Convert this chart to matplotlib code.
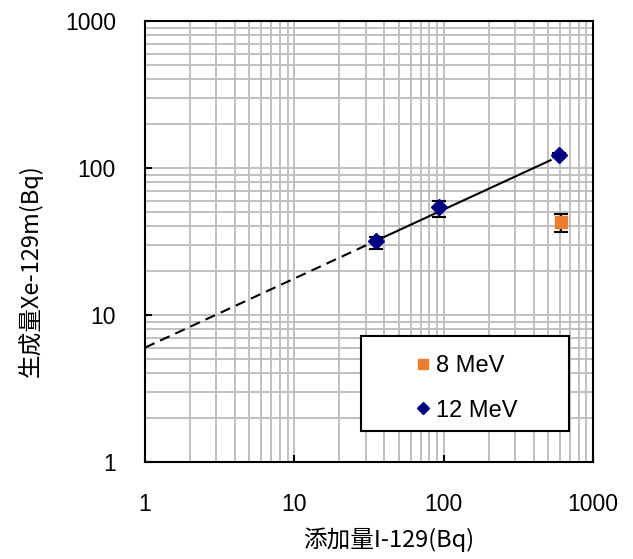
import matplotlib
matplotlib.use("Agg")
from matplotlib import pyplot as plt
from matplotlib.ticker import LogLocator, FixedLocator, NullFormatter

plt.rcParams["font.family"] = ["Liberation Sans", "Noto Sans CJK JP", "DejaVu Sans"]

# 12 MeV data
x12 = [35, 93, 590]
y12 = [31.9, 54, 122]
err12_lo = [3.8, 7.4, 4]
err12_hi = [2.1, 6, 5]

# 8 MeV data
x8 = [612]
y8 = [43]
err8_lo = [6.1]
err8_hi = [6]

# trend line (extrapolated part dashed)
fit_dash_x = [1, 35]
fit_dash_y = [6.0, 31.9]
fit_solid_x = [35, 520]
fit_solid_y = [31.9, 113]

xticks = [1, 10, 100, 1000]
yticks = [1, 10, 100, 1000]

fig = plt.figure(figsize=(6.33, 5.59), dpi=100)
ax = fig.add_axes([145 / 633, 1 - 462 / 559, 448 / 633, 441 / 559])
ax.set_xscale("log")
ax.set_yscale("log")
ax.set_xlim(1, 1000)
ax.set_ylim(1, 1000)

ax.grid(True, which="both", color="#c0c0c0", linewidth=1.4, zorder=0)
ax.xaxis.set_minor_locator(LogLocator(base=10, subs=range(2, 10)))
ax.yaxis.set_minor_locator(LogLocator(base=10, subs=range(2, 10)))
ax.xaxis.set_minor_formatter(NullFormatter())
ax.yaxis.set_minor_formatter(NullFormatter())
ax.xaxis.set_major_locator(FixedLocator(xticks))
ax.yaxis.set_major_locator(FixedLocator(yticks))
ax.set_xticklabels([str(v) for v in xticks])
ax.set_yticklabels([str(v) for v in yticks])
ax.tick_params(which="major", direction="in", length=5, width=1.5, labelsize=16.5, color="black")
ax.tick_params(axis="x", pad=22)
ax.tick_params(axis="y", pad=21)
ax.tick_params(which="minor", length=0)
for s in ax.spines.values():
    s.set_linewidth(1.5)
    s.set_color("black")

ax.plot(fit_dash_x, fit_dash_y, color="black", linestyle=(0, (5, 3)), linewidth=1.5, zorder=3)
ax.plot(fit_solid_x, fit_solid_y, color="black", linewidth=1.5, zorder=3)

ax.errorbar(x8, y8, yerr=[err8_lo, err8_hi], fmt="s", color="#ed7d31", markersize=9,
            ecolor="black", elinewidth=1.5, capsize=5, capthick=1.5, label="8 MeV", zorder=4)
ax.errorbar(x12, y12, yerr=[err12_lo, err12_hi], fmt="D", color="#000080", markersize=8,
            ecolor="black", elinewidth=1.5, capsize=5, capthick=1.5, label="12 MeV", zorder=4)

# legend frame drawn separately, legend content centred in it
bx0, by0 = (361 - 145) / 448, (462 - 431) / 441
bw, bh = (569 - 361) / 448, (431 - 336) / 441
frame = plt.Rectangle((bx0, by0), bw, bh, transform=ax.transAxes, facecolor="white",
                      edgecolor="black", linewidth=1.5, zorder=5)
ax.add_patch(frame)
h, l = ax.get_legend_handles_labels()
h = [hh[0] for hh in h]
leg = ax.legend(h, l, loc="center", bbox_to_anchor=(bx0 + bw / 2 + 0.006, by0 + bh / 2 - 0.011),
                fontsize=17, frameon=False, markerscale=0.75, handlelength=0.5,
                handletextpad=0.3, labelspacing=0.95, borderpad=0)
leg.set_zorder(6)

ax.set_xlabel("添加量I-129(Bq)", fontsize=17, family=["Noto Sans CJK JP"])
ax.set_ylabel("生成量Xe-129m(Bq)", fontsize=17, family=["Noto Sans CJK JP"])
ax.xaxis.set_label_coords((389 - 145) / 448, (462 - 540) / 441)
ax.yaxis.set_label_coords((30 - 145) / 448, (462 - 271) / 441)
ax.xaxis.label.set_va("center")
ax.yaxis.label.set_va("center")

fig.savefig("out.png", dpi=100)
